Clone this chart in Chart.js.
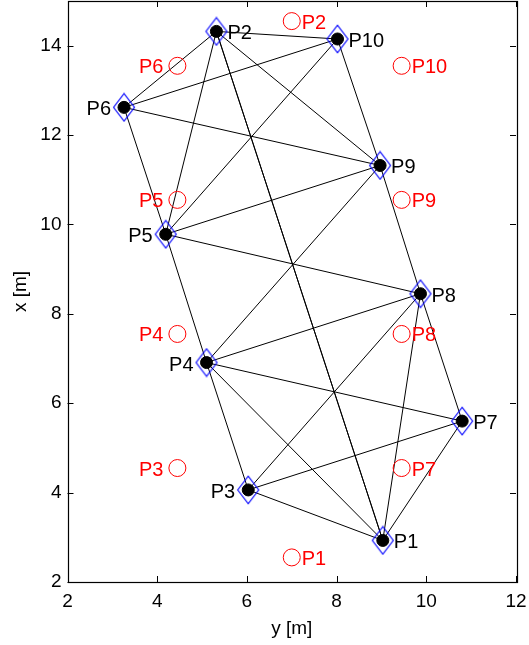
<!DOCTYPE html>
<html>
<head>
<meta charset="utf-8">
<script src="https://cdn.jsdelivr.net/npm/chart.js@4"></script>
<style>
  body { margin: 0; background: #fff; }
  canvas { display: block; }
</style>
</head>
<body>
<canvas id="chartjs-0" width="529" height="645"></canvas>
<script>
"use strict"

// point names
var names = ["P1", "P2", "P3", "P4", "P5", "P6", "P7", "P8", "P9", "P10"];

// estimated positions (horizontal = y [m], vertical = x [m])
var estY = [9.03, 5.32, 6.03, 5.10, 4.19, 3.26, 10.80, 9.87, 8.97, 8.02];
var estX = [2.93, 14.32, 4.06, 6.91, 9.78, 12.62, 5.60, 8.45, 11.32, 14.15];

// nominal positions (red circles)
var nomY = [7.0, 7.0, 4.45, 4.45, 4.45, 4.45, 9.45, 9.45, 9.45, 9.45];
var nomX = [2.55, 14.55, 4.55, 7.55, 10.55, 13.55, 4.55, 7.55, 10.55, 13.55];

// which side the label goes on (1 = right, -1 = left)
var labelSide = [1, 1, -1, -1, -1, -1, 1, 1, 1, 1];

// measured connections, 1-based point numbers (P1-P2 appears twice, it looks heavier)
var edges = [
  [1, 2], [2, 1], [1, 3], [1, 4], [1, 7], [1, 8],
  [2, 5], [2, 6], [2, 9], [2, 10],
  [3, 4], [3, 7], [3, 8],
  [4, 5], [4, 7], [4, 8], [4, 9],
  [5, 6], [5, 8], [5, 9], [5, 10],
  [6, 9], [6, 10],
  [7, 8], [8, 9], [9, 10]
];

var xTicks = [2, 4, 6, 8, 10, 12];
var yTicks = [2, 4, 6, 8, 10, 12, 14];

var fontFam = '"Liberation Sans", Arial, Helvetica, sans-serif';

// tall blue diamond marker, drawn big then shown at 24x30
function makeDiamond(done) {
  var k = 4;
  var c = document.createElement("canvas");
  c.width = 24 * k;
  c.height = 30 * k;
  var g = c.getContext("2d");
  g.scale(k, k);
  g.strokeStyle = "rgb(0,0,255)";
  g.lineWidth = 1.1;
  g.beginPath();
  g.moveTo(12, 1.2);
  g.lineTo(22.5, 15);
  g.lineTo(12, 28.8);
  g.lineTo(1.5, 15);
  g.closePath();
  g.stroke();
  var img = new Image();
  img.onload = function() { done(img); };
  img.width = 24;
  img.height = 30;
  img.src = c.toDataURL();
}

var estPts = [];
var nomPts = [];
for (var i = 0; i < names.length; i++) {
  estPts.push({x: estY[i], y: estX[i]});
  nomPts.push({x: nomY[i], y: nomX[i]});
}

// box, inward ticks and point labels
var decoPlugin = {
  id: "deco",
  afterDatasetsDraw: function(chart) {
    var ctx = chart.ctx;
    var xs = chart.scales.x, ys = chart.scales.y;
    var area = chart.chartArea;
    ctx.save();

    ctx.font = "20px " + fontFam;
    ctx.textBaseline = "alphabetic";
    for (var i = 0; i < names.length; i++) {
      var px = xs.getPixelForValue(estY[i]);
      var py = ys.getPixelForValue(estX[i]);
      var qx = xs.getPixelForValue(nomY[i]);
      var qy = ys.getPixelForValue(nomX[i]);
      if (labelSide[i] > 0) {
        ctx.textAlign = "left";
        ctx.fillStyle = "#000";
        ctx.fillText(names[i], px + 11, py + 8);
        ctx.fillStyle = "rgb(255,0,0)";
        ctx.fillText(names[i], qx + 10, qy + 7.5);
      } else {
        ctx.textAlign = "right";
        ctx.fillStyle = "#000";
        ctx.fillText(names[i], px - 13, py + 8);
        ctx.fillStyle = "rgb(255,0,0)";
        ctx.fillText(names[i], qx - 14, qy + 7.5);
      }
    }

    ctx.strokeStyle = "#000";
    ctx.lineWidth = 1;
    ctx.beginPath();
    xTicks.forEach(function(v) {
      var p = Math.round(xs.getPixelForValue(v)) + 0.5;
      ctx.moveTo(p, area.bottom);
      ctx.lineTo(p, area.bottom - 6);
      ctx.moveTo(p, area.top);
      ctx.lineTo(p, area.top + 6);
    });
    yTicks.forEach(function(v) {
      var p = Math.round(ys.getPixelForValue(v)) + 0.5;
      ctx.moveTo(area.left, p);
      ctx.lineTo(area.left + 6, p);
      ctx.moveTo(area.right, p);
      ctx.lineTo(area.right - 6, p);
    });
    ctx.stroke();

    ctx.lineWidth = 1.2;
    ctx.strokeRect(Math.round(area.left) + 0.5, Math.round(area.top) + 0.5,
      Math.round(area.right - area.left), Math.round(area.bottom - area.top));
    ctx.restore();
  }
};

function drawChart(diamond) {
  var datasets = [];
  datasets.push({
    label: "est",
    data: estPts,
    pointStyle: "circle",
    pointRadius: 6,
    pointBackgroundColor: "#000",
    pointBorderColor: "#000",
    pointBorderWidth: 1,
    showLine: false,
    order: 0
  });
  datasets.push({
    label: "diamond",
    data: estPts,
    pointStyle: diamond,
    pointRadius: 12,
    showLine: false,
    order: 1
  });
  datasets.push({
    label: "nominal",
    data: nomPts,
    pointStyle: "circle",
    pointRadius: 8.5,
    pointBackgroundColor: "rgba(0,0,0,0)",
    pointBorderColor: "rgb(255,0,0)",
    pointBorderWidth: 1,
    showLine: false,
    order: 2
  });
  for (var e = 0; e < edges.length; e++) {
    var a = edges[e][0] - 1, b = edges[e][1] - 1;
    datasets.push({
      label: "edge" + e,
      data: [estPts[a], estPts[b]],
      showLine: true,
      borderColor: "#000",
      borderWidth: 1,
      pointRadius: 0,
      order: 3
    });
  }

  var ctx0 = document.getElementById("chartjs-0");
  var myChart = new Chart(ctx0, {
    type: "scatter",
    data: { datasets: datasets },
    options: {
      responsive: false,
      animation: false,
      layout: { autoPadding: false, padding: { left: 0, right: 13, top: 1, bottom: 0 } },
      plugins: { legend: { display: false }, tooltip: { enabled: false } },
      scales: {
        x: {
          type: "linear",
          min: 2,
          max: 12,
          grid: { display: false, drawTicks: false },
          border: { display: false },
          afterBuildTicks: function(s) { s.ticks = xTicks.map(function(v) { return {value: v}; }); },
          afterFit: function(s) { s.height = 63; s.paddingLeft = 0; s.paddingRight = 0; },
          ticks: { color: "#000", padding: 8, font: { family: fontFam, size: 19 }, maxRotation: 0 },
          title: { display: true, text: "y [m]", color: "#000", padding: { top: 0, bottom: 5 }, font: { family: fontFam, size: 19 } }
        },
        y: {
          type: "linear",
          min: 2,
          max: 15,
          grid: { display: false, drawTicks: false },
          border: { display: false },
          afterBuildTicks: function(s) { s.ticks = yTicks.map(function(v) { return {value: v}; }); },
          afterFit: function(s) { s.width = 67.5; s.paddingTop = 0; s.paddingBottom = 0; },
          ticks: { color: "#000", padding: 6, font: { family: fontFam, size: 19 } },
          title: { display: true, text: "x [m]", color: "#000", padding: { top: 9, bottom: 0 }, font: { family: fontFam, size: 19 } }
        }
      }
    },
    plugins: [decoPlugin]
  });
}

makeDiamond(drawChart);
</script>
</body>
</html>
